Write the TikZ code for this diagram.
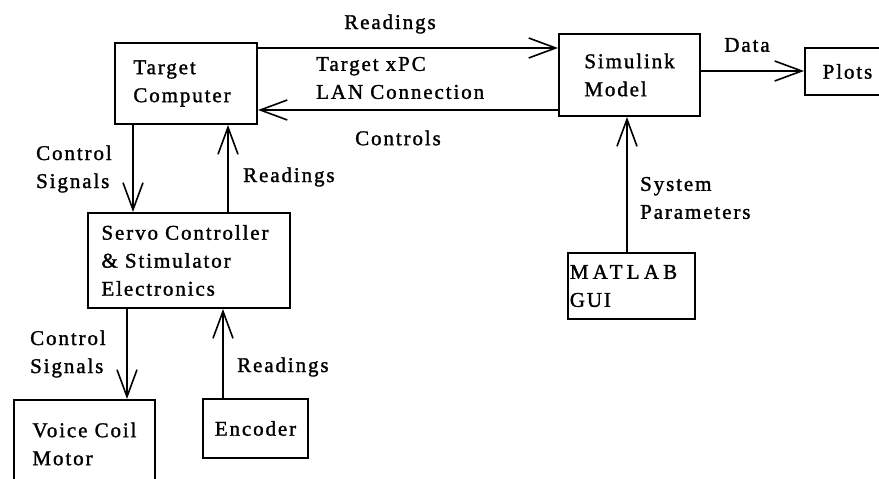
\documentclass[tikz,border=0pt]{standalone}
\usepackage{fontspec}
\setmainfont{Liberation Serif}[LetterSpace=9,FakeBold=1.4]
\usetikzlibrary{arrows.meta}
\begin{document}
\begin{tikzpicture}[x=1pt,y=-1pt,
  every node/.style={font=\fontsize{21}{28}\selectfont},
  blk/.style={draw,line width=2pt,anchor=north west,align=left,inner sep=0pt},
  lbl/.style={inner sep=0pt,align=left,anchor=west},
  conn/.style={line width=1.8pt,-{Straight Barb[length=27pt,width=20pt,line width=1.6pt]}}]
\useasboundingbox (0,0) rectangle (879,479);
\clip (0,0) rectangle (879,479);
% boxes
\node[blk,minimum width=142pt,minimum height=81pt] (tc) at (114,42) {Target\hspace*{8pt}\\Computer\hspace*{8pt}};
\node[blk,minimum width=141pt,minimum height=82pt] (sm) at (558,33) {Simulink\\Model};
\node[blk,minimum width=95pt,minimum height=47pt] (pl) at (804,47) {\hspace*{-10pt}Plots};
\node[blk,minimum width=127pt,minimum height=66pt] (mg) at (567,252) {{\addfontfeature{LetterSpace=20}MATLAB}\hspace*{16pt}\\GUI};
\node[blk,minimum width=202pt,minimum height=95pt] (sc) at (87,212) {Servo Controller\hspace*{8pt}\\\& Stimulator\\Electronics};
\node[blk,minimum width=141pt,minimum height=88pt] (vc) at (13,399) {Voice Coil\\Motor};
\node[blk,minimum width=105pt,minimum height=59pt] (en) at (202,398) {Encoder};
% connectors
\draw[conn] (tc.east |- 0,48) -- (sm.west |- 0,48);
\draw[conn] (sm.west |- 0,110) -- (tc.east |- 0,110);
\draw[conn] (sm.east |- 0,71) -- (pl.west |- 0,71);
\draw[conn] (mg.north -| 627,0) -- (sm.south -| 627,0);
\draw[conn] (tc.south -| 133,0) -- (sc.north -| 133,0);
\draw[conn] (sc.north -| 228,0) -- (tc.south -| 228,0);
\draw[conn] (sc.south -| 127,0) -- (vc.north -| 127,0);
\draw[conn] (en.north -| 223,0) -- (sc.south -| 223,0);
% labels
\node[inner sep=0pt] (l1) at (390,24) {Readings};
\node[lbl] (l2) at (316,78) {Target xPC\\LAN Connection};
\node[inner sep=0pt] (l3) at (398,138) {Controls};
\node[inner sep=0pt] (l4) at (747,45) {Data};
\node[lbl] (l5) at (640,198) {System\\Parameters};
\node[lbl] (l6) at (36,169) {Control\\Signals};
\node[lbl] (l7) at (243,177) {Readings};
\node[lbl] (l8) at (30,354) {Control\\Signals};
\node[lbl] (l9) at (237,367) {Readings};
\end{tikzpicture}
\end{document}
